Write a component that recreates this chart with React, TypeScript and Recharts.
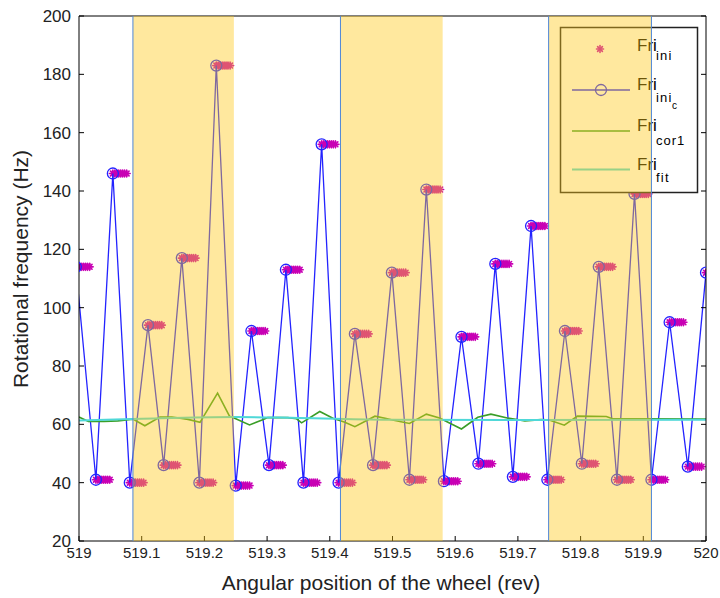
import React from 'react';
import { ComposedChart, Line, Scatter, XAxis, YAxis, ReferenceArea, ReferenceLine } from 'recharts';

const FONT = 'Liberation Sans, Arial, Helvetica, sans-serif';

const xTicks = [519, 519.1, 519.2, 519.3, 519.4, 519.5, 519.6, 519.7, 519.8, 519.9, 520];
const yTicks = [20, 40, 60, 80, 100, 120, 140, 160, 180, 200];

// Fri_ini_c (circles + blue line)
const iniCX = [518.995, 519.027, 519.054, 519.081, 519.110, 519.135, 519.164, 519.192, 519.219, 519.250, 519.275, 519.303, 519.330, 519.358, 519.387, 519.414, 519.440, 519.469, 519.499, 519.527, 519.554, 519.582, 519.610, 519.637, 519.664, 519.692, 519.721, 519.747, 519.775, 519.802, 519.829, 519.858, 519.886, 519.913, 519.942, 519.971, 520.0];
const iniCY = [114, 41, 146, 40, 94, 46, 117, 40, 183, 39, 92, 46, 113, 40, 156, 40, 91, 46, 112, 41, 140.5, 40.5, 90, 46.5, 115, 42, 128, 41, 92, 46.5, 114, 41, 139, 41, 95, 45.5, 112];

// Fri_ini samples: each held value is sampled at these offsets after its run start
const iniSampleOffsets = [0, 0.0031, 0.0062, 0.0093, 0.0124, 0.0155, 0.0186, 0.022];

// Fri_cor1
const cor1X = [519.0, 519.015, 519.04, 519.062, 519.086, 519.105, 519.129, 519.148, 519.174, 519.193, 519.221, 519.240, 519.250, 519.272, 519.293, 519.301, 519.333, 519.347, 519.355, 519.384, 519.405, 519.424, 519.440, 519.472, 519.490, 519.500, 519.527, 519.554, 519.575, 519.610, 519.636, 519.657, 519.683, 519.711, 519.737, 519.750, 519.774, 519.795, 519.841, 519.851, 519.900, 520.0];
const cor1Y = [62.5, 61.0, 61.0, 61.2, 61.8, 59.5, 62.5, 62.5, 61.7, 60.7, 70.7, 62.8, 61.9, 59.8, 61.6, 62.3, 62.3, 61.9, 60.5, 64.4, 62.1, 60.7, 59.2, 62.8, 62.0, 61.5, 60.3, 63.5, 62.2, 58.4, 62.4, 63.5, 62.2, 61.2, 61.6, 61.5, 59.7, 62.8, 62.7, 61.9, 61.9, 61.8];

// Fri_fit
const fitX = [519.0, 519.1, 519.25, 519.35, 519.5, 519.7, 520.0];
const fitY = [61.3, 61.9, 62.5, 62.2, 61.6, 61.5, 61.6];

// highlighted bands
const bandX1 = [519.086, 519.417, 519.749];
const bandX2 = [519.247, 519.580, 519.913];
const edgeLines = [519.086, 519.417, 519.749, 519.913];

const BLUE = '#2323ff';
const STAR = '#c800b4';
const COR1 = '#3a9e28';
const FIT = '#4fd8d8';

const iniCData = iniCX.map((x, i) => ({ x, y: iniCY[i] }));
const iniData = iniCX.flatMap((x, i) => iniSampleOffsets.map((o) => ({ x: x + o, y: iniCY[i] })));
const cor1Data = cor1X.map((x, i) => ({ x, y: cor1Y[i] }));
const fitData = fitX.map((x, i) => ({ x, y: fitY[i] }));

function StarMark({ cx, cy, color }: { cx: number; cy: number; color: string }) {
  return (
    <g stroke={color} strokeWidth={1.6} strokeLinecap="round">
      <line x1={cx - 3.5} y1={cy} x2={cx + 3.5} y2={cy} />
      <line x1={cx} y1={cy - 3.5} x2={cx} y2={cy + 3.5} />
      <line x1={cx - 2.4} y1={cy - 2.4} x2={cx + 2.4} y2={cy + 2.4} />
      <line x1={cx - 2.4} y1={cy + 2.4} x2={cx + 2.4} y2={cy - 2.4} />
    </g>
  );
}

const starShape = (p: any) => <StarMark cx={p.cx} cy={p.cy} color={STAR} />;

function LegendAndLabels() {
  return (
    <g fontFamily={FONT}>
      <rect x={560.5} y={27.5} width={137} height={165} fill="#fff" stroke="#222" strokeWidth={1.5} />
      <StarMark cx={600} cy={49} color={STAR} />
      <text x={637} y={51} fontSize={17} fill="#000">Fri</text>
      <text x={656} y={60} fontSize={13} letterSpacing={1.2} fill="#000">ini</text>

      <line x1={572} y1={90} x2={630} y2={90} stroke={BLUE} strokeWidth={1.3} />
      <circle cx={601} cy={90} r={5.5} stroke={BLUE} strokeWidth={1.3} fill="none" />
      <text x={637} y={89.5} fontSize={17} fill="#000">Fri</text>
      <text x={656} y={102} fontSize={13} letterSpacing={1.2} fill="#000">ini</text>
      <text x={672} y={108.5} fontSize={10} fill="#000">c</text>

      <line x1={572} y1={131} x2={630} y2={131} stroke={COR1} strokeWidth={1.6} />
      <text x={637} y={131} fontSize={17} fill="#000">Fri</text>
      <text x={656} y={144.5} fontSize={13} letterSpacing={1} fill="#000">cor1</text>

      <line x1={572} y1={169.5} x2={630} y2={169.5} stroke={FIT} strokeWidth={2} />
      <text x={637} y={169.5} fontSize={17} fill="#000">Fri</text>
      <text x={656} y={181.5} fontSize={13} letterSpacing={1.2} fill="#000">fit</text>

      <text x={381} y={590} fontSize={21} fill="#222" textAnchor="middle">Angular position of the wheel (rev)</text>
      <text x={28} y={269} fontSize={21} fill="#222" textAnchor="middle" transform="rotate(-90, 28, 269)">
        Rotational frequency (Hz)
      </text>
    </g>
  );
}

const tickStyle = { fontSize: 15, fill: '#222', fontFamily: FONT };
const yTickStyle = { fontSize: 17, fill: '#222', fontFamily: FONT };
const blank = () => '';

export default function App() {
  return (
    <div style={{ position: 'absolute', left: 0, top: 0, width: 720, height: 598, background: '#fff' }}>
      <ComposedChart width={720} height={598} margin={{ top: 15, right: 13, bottom: 27, left: 19 }}>
        <XAxis
          dataKey="x"
          type="number"
          domain={[519, 520]}
          allowDataOverflow
          ticks={xTicks}
          tickFormatter={(v: number) => String(v)}
          tickSize={-5}
          tickMargin={11}
          height={30}
          stroke="#000"
          tick={tickStyle}
          interval={0}
        />
        <XAxis
          xAxisId="t"
          orientation="top"
          type="number"
          domain={[519, 520]}
          allowDataOverflow
          ticks={xTicks}
          tickFormatter={blank}
          tickSize={-5}
          height={1}
          stroke="#000"
          interval={0}
        />
        <YAxis
          type="number"
          domain={[20, 200]}
          allowDataOverflow
          ticks={yTicks}
          tickSize={-5}
          tickMargin={13}
          width={60}
          stroke="#000"
          tick={yTickStyle}
          interval={0}
        />
        <YAxis
          yAxisId="r"
          orientation="right"
          type="number"
          domain={[20, 200]}
          allowDataOverflow
          ticks={yTicks}
          tickFormatter={blank}
          tickSize={-5}
          width={1}
          stroke="#000"
          interval={0}
        />
        <Scatter data={iniData} dataKey="y" fill={STAR} shape={starShape} isAnimationActive={false} zIndex={400} />
        <Line
          data={iniCData}
          dataKey="y"
          type="linear"
          stroke={BLUE}
          strokeWidth={1.3}
          dot={{ r: 5.5, stroke: BLUE, strokeWidth: 1.3, fill: 'none' }}
          activeDot={false}
          isAnimationActive={false}
          zIndex={410}
        />
        <Line data={cor1Data} dataKey="y" type="linear" stroke={COR1} strokeWidth={1.6} dot={false} activeDot={false} isAnimationActive={false} zIndex={420} />
        <Line data={fitData} dataKey="y" type="monotone" stroke={FIT} strokeWidth={2} dot={false} activeDot={false} isAnimationActive={false} zIndex={430} />
        <ReferenceArea x1={519.8} x2={519.95} y1={150} y2={190} shape={() => <LegendAndLabels />} zIndex={2000} />
        {bandX1.map((x1, i) => (
          <ReferenceArea key={'b' + i} x1={x1} x2={bandX2[i]} fill="#ffc819" fillOpacity={0.42} stroke="none" zIndex={2500} />
        ))}
        {edgeLines.map((x) => (
          <ReferenceLine key={'l' + x} x={x} stroke="#4f86d8" strokeWidth={1} zIndex={2600} />
        ))}
      </ComposedChart>
    </div>
  );
}
